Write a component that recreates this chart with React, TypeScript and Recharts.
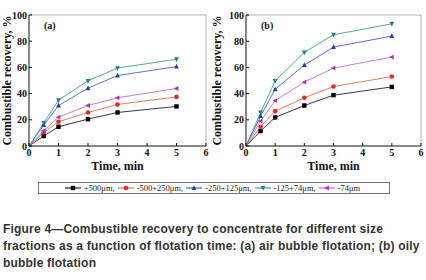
import React from 'react';
import { LineChart, Line, XAxis, YAxis, ReferenceLine } from 'recharts';

const times = [0, 0.5, 1, 2, 3, 5];

// (a) air bubble flotation
const airPlus500 = [0, 7.6, 14.7, 20.5, 25.6, 30.2];
const air500to250 = [0, 10.4, 18.5, 25.6, 31.7, 37.5];
const air250to125 = [0, 16, 30.9, 44.1, 53.8, 60.6];
const air125to74 = [0, 17.7, 35, 49.7, 59.5, 66.2];
const airMinus74 = [0, 11.7, 22, 30.9, 36.8, 43.9];

// (b) oily bubble flotation
const oilyPlus500 = [0, 11.4, 21.8, 30.9, 38.8, 45.1];
const oily500to250 = [0, 14.7, 26.6, 36.8, 45.4, 53];
const oily250to125 = [0, 22.8, 43.3, 61.8, 75.5, 83.9];
const oily125to74 = [0, 25.6, 49.7, 71.5, 84.9, 93.3];
const oilyMinus74 = [0, 19, 34.7, 48.7, 59.5, 67.9];

const seriesNames = ['+500μm', '-500+250μm', '-250+125μm', '-125+74μm', '-74μm'];
const seriesKeys = ['p500', 'm500p250', 'm250p125', 'm125p74', 'm74'];
const lineColors = ['#222222', '#e8704c', '#4a62c0', '#3c9e9e', '#c070d0'];
const markerColors = ['#000000', '#e02a2a', '#2040a8', '#1f7f84', '#a838b0'];
const markerShapes = ['square', 'circle', 'up', 'down', 'left'];

const xTicks = [0, 1, 2, 3, 4, 5, 6];
const yTicks = [0, 20, 40, 60, 80, 100];

const captionLines = [
	'Figure 4\u2014Combustible recovery to concentrate for different size',
	'fractions as a function of flotation time: (a) air bubble flotation; (b) oily',
	'bubble flotation',
];

function buildData(cols: number[][]) {
	return times.map((t, i) => {
		const row: Record<string, number> = { time: t };
		seriesKeys.forEach((k, s) => {
			row[k] = cols[s][i];
		});
		return row;
	});
}

const airData = buildData([airPlus500, air500to250, air250to125, air125to74, airMinus74]);
const oilyData = buildData([oilyPlus500, oily500to250, oily250to125, oily125to74, oilyMinus74]);

function Marker({ shape, color, cx, cy }: { shape: string; color: string; cx: number; cy: number }) {
	const r = 2.4;
	if (shape === 'square') return <rect x={cx - 2.2} y={cy - 2.2} width={4.4} height={4.4} fill={color} />;
	if (shape === 'circle') return <circle cx={cx} cy={cy} r={2.3} fill={color} />;
	let pts = '';
	if (shape === 'up') pts = `${cx},${cy - r - 0.4} ${cx - r},${cy + r * 0.8} ${cx + r},${cy + r * 0.8}`;
	if (shape === 'down') pts = `${cx},${cy + r + 0.4} ${cx - r},${cy - r * 0.8} ${cx + r},${cy - r * 0.8}`;
	if (shape === 'left') pts = `${cx - r - 0.4},${cy} ${cx + r * 0.8},${cy - r} ${cx + r * 0.8},${cy + r}`;
	return <polygon points={pts} fill={color} />;
}

function makeDot(s: number) {
	return (props: any) => {
		const { cx, cy, index } = props;
		if (index === 0 || cx == null) return <g key={`d-${s}-${index}`} />;
		return (
			<g key={`d-${s}-${index}`}>
				<Marker shape={markerShapes[s]} color={markerColors[s]} cx={cx} cy={cy} />
			</g>
		);
	};
}

const serif = '"Liberation Serif", "Times New Roman", serif';
const tickStyle = { fontFamily: serif, fontSize: 10, fontWeight: 'bold' as const, fill: '#111' };
const titleStyle = { fontFamily: serif, fontSize: 12, fontWeight: 'bold' as const, fill: '#111' };

function Panel({ data, tag, width, yWidth, rightMargin }: { data: any[]; tag: string; width: number; yWidth: number; rightMargin: number }) {
	return (
		<LineChart width={width} height={180} data={data} margin={{ top: 15, right: rightMargin, left: 0, bottom: 0 }}>
			<XAxis
				dataKey='time'
				type='number'
				domain={[0, 6]}
				ticks={xTicks}
				height={34}
				tickSize={-3}
				tickMargin={6}
				stroke='#111'
				tick={tickStyle}
				label={{ value: 'Time, min', position: 'insideBottom', offset: 10, style: titleStyle }}
			/>
			<YAxis
				type='number'
				domain={[0, 100]}
				ticks={yTicks}
				width={yWidth}
				tickSize={-3}
				tickMargin={5}
				stroke='#111'
				tick={tickStyle}
				label={{ value: 'Combustible recovery, %', angle: -90, position: 'insideLeft', offset: 0, dx: 7, style: { ...titleStyle, textAnchor: 'middle' } }}
			/>
			<ReferenceLine y={100} stroke='#999' strokeWidth={0.8} />
			<ReferenceLine x={6} stroke='#999' strokeWidth={0.8} />
			<ReferenceLine
				y={92}
				stroke='none'
				label={{ value: tag, position: 'insideLeft', offset: 15, style: { fontFamily: serif, fontSize: 10, fontWeight: 'bold', fill: '#111' } }}
			/>
			{seriesKeys.map((k, s) => (
				<Line
					key={k}
					type='linear'
					dataKey={k}
					stroke={lineColors[s]}
					strokeWidth={0.9}
					dot={makeDot(s)}
					activeDot={false}
					isAnimationActive={false}
				/>
			))}
		</LineChart>
	);
}

function LegendIcon({ s }: { s: number }) {
	return (
		<svg width={16} height={8} style={{ verticalAlign: 'middle', marginRight: 3 }}>
			<line x1={0} y1={4} x2={16} y2={4} stroke={lineColors[s]} strokeWidth={1.2} />
			<Marker shape={markerShapes[s]} color={markerColors[s]} cx={8} cy={4} />
		</svg>
	);
}

export default function App() {
	return (
		<div style={{ position: 'absolute', left: 0, top: 0, width: 426, height: 280, background: '#fff', overflow: 'hidden' }}>
			<div style={{ position: 'absolute', left: 0, top: 0 }}>
				<Panel data={airData} tag='(a)' width={215} yWidth={29} rightMargin={9} />
			</div>
			<div style={{ position: 'absolute', left: 210, top: 0 }}>
				<Panel data={oilyData} tag='(b)' width={216} yWidth={36} rightMargin={5} />
			</div>
			<div
				style={{
					position: 'absolute',
					left: 38,
					top: 182,
					width: 350,
					height: 10,
					border: '1px solid #777',
					display: 'flex',
					alignItems: 'center',
					justifyContent: 'center',
					fontFamily: serif,
					fontSize: 8.5,
					color: '#222',
					whiteSpace: 'nowrap',
				}}>
				{seriesNames.map((n, s) => (
					<span key={n} style={{ marginRight: 3, display: 'inline-flex', alignItems: 'center' }}>
						<LegendIcon s={s} />
						{n + (s < seriesNames.length - 1 ? ',' : '')}
					</span>
				))}
			</div>
			<div
				style={{
					position: 'absolute',
					left: 3,
					top: 221,
					width: 423,
					fontFamily: '"Liberation Sans", Arial, sans-serif',
					fontWeight: 'bold',
					fontSize: 12,
					lineHeight: '17px',
					color: '#333',
					letterSpacing: 0.2,
					whiteSpace: 'nowrap',
				}}>
				{captionLines.map((l) => (
					<div key={l}>{l}</div>
				))}
			</div>
		</div>
	);
}
